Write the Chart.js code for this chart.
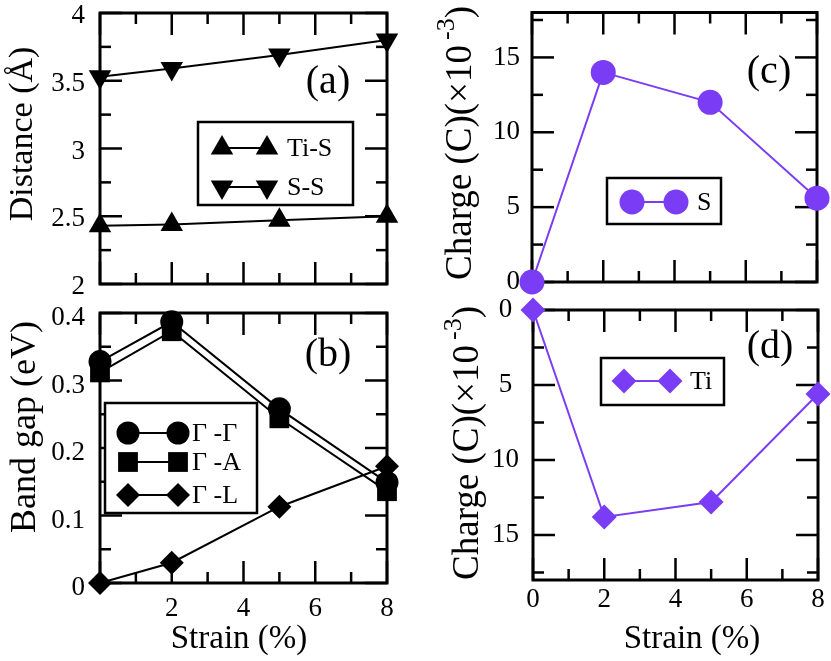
<!DOCTYPE html>
<html>
<head>
<meta charset="utf-8">
<script src="https://cdn.jsdelivr.net/npm/chart.js@4.4.1/dist/chart.umd.min.js"></script>
<style>
  html, body { margin: 0; padding: 0; background: #fff; }
  #wrap { position: relative; width: 831px; height: 661px; overflow: hidden; }
  canvas { position: absolute; }
</style>
</head>
<body>
<div id="wrap">
  <canvas id="cA" width="415" height="300" style="left:0px;top:0px"></canvas>
  <canvas id="cB" width="415" height="366" style="left:0px;top:295px"></canvas>
  <canvas id="cC" width="411" height="300" style="left:420px;top:0px"></canvas>
  <canvas id="cD" width="411" height="366" style="left:420px;top:295px"></canvas>
</div>
<script>
// strain (%) values, shared by every panel
const strain = [0, 2, 5, 8];
const strainTicks = [0, 2, 4, 6, 8];
const bandXLabels = ['', '2', '4', '6', '8'];
const chargeXLabels = ['0', '2', '4', '6', '8'];

// (a) bond distances
const tiS = [2.43, 2.44, 2.47, 2.50];
const sS = [3.53, 3.59, 3.69, 3.80];
const distTicks = [2, 2.5, 3, 3.5, 4];

// (b) band gaps
const gapGG = [0.328, 0.387, 0.258, 0.149];
const gapGA = [0.312, 0.373, 0.244, 0.136];
const gapGL = [0.0, 0.03, 0.113, 0.173];
const gapTicks = [0, 0.1, 0.2, 0.3, 0.4];

// (c), (d) charge transfer
const chargeS = [0, 14.0, 12.0, 5.6];
const chargeTi = [0, 13.8, 12.8, 5.6];
const chargeTicks = [0, 5, 10, 15];

const PURPLE = '#7a3cf4';
const SERIF = '"Liberation Serif", "DejaVu Serif", serif';

function pts(ys){ return strain.map((x, i) => ({x, y: ys[i]})); }

function series(ys, style, color, radius, rot){
  return { data: pts(ys), borderColor: color, backgroundColor: color, borderWidth: 2,
    pointStyle: style, pointRadius: radius, pointHoverRadius: radius, pointRotation: rot || 0,
    pointBorderWidth: 0, pointBackgroundColor: color, clip: false, tension: 0 };
}

function marker(ctx, style, x, y, r, rot){
  ctx.save(); ctx.translate(x, y); ctx.rotate((rot || 0) * Math.PI / 180); ctx.beginPath();
  if(style === 'circle') ctx.arc(0, 0, r, 0, 2 * Math.PI);
  else if(style === 'rect'){ const s = r * Math.SQRT1_2; ctx.rect(-s, -s, 2 * s, 2 * s); }
  else if(style === 'rectRot'){ ctx.moveTo(0, -r); ctx.lineTo(r, 0); ctx.lineTo(0, r); ctx.lineTo(-r, 0); ctx.closePath(); }
  else { for(let k = 0; k < 3; k++){ const a = k * 2 * Math.PI / 3; ctx[k ? 'lineTo' : 'moveTo'](Math.sin(a) * r, -Math.cos(a) * r); } ctx.closePath(); }
  ctx.fill(); ctx.restore();
}

function line(ctx, x1, y1, x2, y2){ ctx.beginPath(); ctx.moveTo(x1, y1); ctx.lineTo(x2, y2); ctx.stroke(); }

// frame, inside ticks, legend, panel letter and axis titles
function decor(p){
  const ox = p.off[0], oy = p.off[1];
  return {
    id: 'decor',
    beforeDatasetsDraw(chart){
      const {ctx, chartArea: a, scales: {x, y}} = chart;
      ctx.save(); ctx.strokeStyle = '#000'; ctx.lineWidth = 2.5;
      for(let v = x.min; v <= x.max + 1e-9; v += p.xMinor){
        const px = x.getPixelForValue(v);
        const len = Math.abs(v / p.xMajor - Math.round(v / p.xMajor)) < 1e-6 ? 22 : 11;
        line(ctx, px, a.bottom, px, a.bottom - len); line(ctx, px, a.top, px, a.top + len);
      }
      for(let v = y.min; v <= y.max + 1e-9; v += p.yMinor){
        const py = y.getPixelForValue(v);
        const len = Math.abs(v / p.yMajor - Math.round(v / p.yMajor)) < 1e-6 ? 22 : 11;
        line(ctx, a.left, py, a.left + len, py); line(ctx, a.right, py, a.right - len, py);
      }
      ctx.lineWidth = 3;
      ctx.strokeRect(a.left, a.top, a.right - a.left, a.bottom - a.top);
      ctx.restore();
    },
    afterDraw(chart){
      const ctx = chart.ctx;
      ctx.save();
      // legend box
      const L = p.legend;
      ctx.fillStyle = '#fff'; ctx.strokeStyle = '#000'; ctx.lineWidth = 2.5;
      ctx.fillRect(L.box[0] - ox, L.box[1] - oy, L.box[2] - L.box[0], L.box[3] - L.box[1]);
      ctx.strokeRect(L.box[0] - ox, L.box[1] - oy, L.box[2] - L.box[0], L.box[3] - L.box[1]);
      L.rows.forEach(r => {
        const yy = r.y - oy;
        ctx.strokeStyle = r.color; ctx.fillStyle = r.color; ctx.lineWidth = 2;
        line(ctx, L.x1 - ox, yy, L.x2 - ox, yy);
        marker(ctx, r.style, L.x1 - ox, yy, r.r, r.rot);
        marker(ctx, r.style, L.x2 - ox, yy, r.r, r.rot);
        ctx.fillStyle = '#000'; ctx.font = '26px ' + SERIF; ctx.textAlign = 'left'; ctx.textBaseline = 'middle';
        ctx.fillText(r.label, L.tx - ox, yy + 1);
      });
      // panel letter
      ctx.fillStyle = '#000'; ctx.font = '40px ' + SERIF; ctx.textAlign = 'center'; ctx.textBaseline = 'middle';
      ctx.fillText(p.tag.text, p.tag.x - ox, p.tag.y - oy);
      // x title
      if(p.xTitle){
        ctx.font = '33px ' + SERIF; ctx.textBaseline = 'alphabetic';
        ctx.fillText(p.xTitle.text, p.xTitle.x - ox, p.xTitle.y - oy);
      }
      // y title, rotated, made of parts (superscript parts raised)
      const T = p.yTitle;
      ctx.translate(T.x - ox, T.y - oy); ctx.rotate(-Math.PI / 2);
      ctx.textAlign = 'left'; ctx.textBaseline = 'alphabetic';
      let total = 0;
      T.parts.forEach(q => { ctx.font = q.size + 'px ' + SERIF; total += ctx.measureText(q.text).width + (q.gap || 0); });
      let cx = -total / 2;
      T.parts.forEach(q => {
        ctx.font = q.size + 'px ' + SERIF;
        cx += (q.gap || 0);
        ctx.fillText(q.text, cx, -(q.raise || 0));
        cx += ctx.measureText(q.text).width;
      });
      ctx.restore();
    }
  };
}

function axes(p){
  const font = {family: SERIF, size: 27};
  return {
    x: { type: 'linear', min: 0, max: 8,
      afterBuildTicks: s => { s.ticks = strainTicks.map(v => ({value: v})); },
      ticks: { display: !!p.xLabels, color: '#000', font, padding: p.xPad || 8, maxRotation: 0, autoSkip: false,
        callback: (v, i) => p.xLabels ? p.xLabels[i] : '' },
      grid: { display: false, drawTicks: false }, border: { display: false },
      afterFit: s => { s.height = p.xh; s.paddingLeft = 0; s.paddingRight = 0; } },
    y: { type: 'linear', min: p.ymin, max: p.ymax, reverse: !!p.rev,
      afterBuildTicks: s => { s.ticks = p.yTicks.map(v => ({value: v})); },
      ticks: { color: '#000', font, padding: p.yPad, labelOffset: p.yShift || 0, crossAlign: p.yAlign || 'near',
        autoSkip: false, callback: v => String(v) },
      grid: { display: false, drawTicks: false }, border: { display: false },
      afterFit: s => { s.width = p.yw; s.paddingTop = 0; s.paddingBottom = 0; } }
  };
}

function panel(id, p){
  new Chart(document.getElementById(id), {
    type: 'line',
    data: { datasets: p.datasets },
    options: {
      responsive: false, animation: false, devicePixelRatio: 1,
      layout: { padding: p.pad },
      plugins: { legend: { display: false }, tooltip: { enabled: false } },
      scales: axes(p)
    },
    plugins: [decor(p)]
  });
}

panel('cA', {
  off: [0, 0], pad: {left: 0, top: 13, right: 28, bottom: 0}, yw: 100, xh: 16, yPad: 15, yShift: 3,
  ymin: 2, ymax: 4, yTicks: distTicks, xMinor: 1, xMajor: 2, yMinor: 0.25, yMajor: 0.5,
  datasets: [series(tiS, 'triangle', '#000', 13, 0), series(sS, 'triangle', '#000', 13, 180)],
  legend: { box: [198, 122, 353, 205], x1: 222, x2: 267, tx: 287, rows: [
    {y: 148, style: 'triangle', rot: 0, r: 13, color: '#000', label: 'Ti-S'},
    {y: 187, style: 'triangle', rot: 180, r: 13, color: '#000', label: 'S-S'}] },
  tag: {text: '(a)', x: 328, y: 82},
  yTitle: {x: 32, y: 134, parts: [{text: 'Distance (Å)', size: 34}]}
});

panel('cB', {
  off: [0, 295], pad: {left: 0, top: 18, right: 28, bottom: 0}, yw: 100, xh: 78, yPad: 15, yShift: 5, xPad: 10,
  ymin: 0, ymax: 0.4, yTicks: gapTicks, xLabels: bandXLabels, xMinor: 1, xMajor: 2, yMinor: 0.05, yMajor: 0.1,
  datasets: [series(gapGG, 'circle', '#000', 11.5), series(gapGA, 'rect', '#000', 14), series(gapGL, 'rectRot', '#000', 12)],
  legend: { box: [105, 403, 257, 513], x1: 128, x2: 178, tx: 192, rows: [
    {y: 433, style: 'circle', r: 11.5, color: '#000', label: 'Γ -Γ'},
    {y: 462, style: 'rect', r: 14, color: '#000', label: 'Γ -A'},
    {y: 495, style: 'rectRot', r: 12, color: '#000', label: 'Γ -L'}] },
  tag: {text: '(b)', x: 328, y: 355},
  xTitle: {text: 'Strain (%)', x: 239, y: 648},
  yTitle: {x: 35, y: 427, parts: [{text: 'Band gap (eV)', size: 36}]}
});

const chargeTitle = [
  {text: 'Charge (C)(\u00d710', size: 37},
  {text: '-3', size: 26, raise: 17, gap: 5},
  {text: ')', size: 37}
];

panel('cC', {
  off: [420, 0], pad: {left: 0, top: 10, right: 14, bottom: 0}, yw: 112, xh: 18, yPad: 12,
  ymin: 0, ymax: 18, yTicks: chargeTicks, xMinor: 1, xMajor: 2, yMinor: 2.5, yMajor: 5,
  datasets: [series(chargeS, 'circle', PURPLE, 12.5)],
  legend: { box: [607, 178, 721, 224], x1: 632, x2: 676, tx: 697, rows: [
    {y: 202, style: 'circle', r: 12.5, color: PURPLE, label: 'S'}] },
  tag: {text: '(c)', x: 769, y: 72},
  yTitle: {x: 471, y: 143, parts: chargeTitle}
});

panel('cD', {
  off: [420, 295], pad: {left: 0, top: 15, right: 13, bottom: 0}, yw: 113, xh: 81, yPad: 14, yAlign: 'center', xPad: 4,
  ymin: 0, ymax: 18, rev: true, yTicks: chargeTicks, xLabels: chargeXLabels, xMinor: 1, xMajor: 2, yMinor: 2.5, yMajor: 5,
  datasets: [series(chargeTi, 'rectRot', PURPLE, 12.5)],
  legend: { box: [601, 358, 724, 405], x1: 624, x2: 670, tx: 690, rows: [
    {y: 381, style: 'rectRot', r: 12.5, color: PURPLE, label: 'Ti'}] },
  tag: {text: '(d)', x: 770, y: 347},
  xTitle: {text: 'Strain (%)', x: 692, y: 648},
  yTitle: {x: 478, y: 443, parts: chargeTitle}
});
</script>
</body>
</html>
